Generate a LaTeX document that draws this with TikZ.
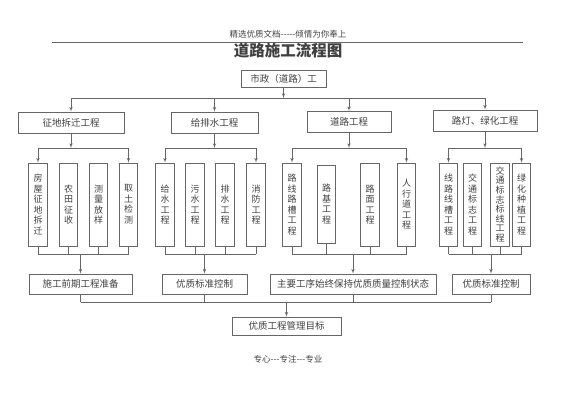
\documentclass[tikz,border=0pt]{standalone}
\usepackage{fontspec}
\newfontfamily\cjk[Ligatures=TeXOff]{Noto Sans CJK SC}
\usetikzlibrary{arrows}

\begin{document}
\begin{tikzpicture}[x=1pt,y=-1pt,->,>=latex',semithick,draw=black!60]
  \tikzstyle{every node}=[font=\cjk,text=black!75]
  \tikzstyle{box}=[draw=black!60,inner sep=0pt,minimum height=21pt,
                   font=\cjk\fontsize{9.5}{11}\selectfont]
  \tikzstyle{vbox}=[box,minimum width=18.5pt,minimum height=83pt,align=center,
                    font=\cjk\fontsize{9}{10.5}\selectfont]

  \useasboundingbox (0,0) rectangle (565,400);

  % page header
  \node (head)  at (288,34) {\fontsize{8.5}{10}\selectfont 精选优质文档-----倾情为你奉上};
  \draw[-] (52,42) -- (523,42);
  \node (title) at (288,51) {\fontsize{15.5}{18}\selectfont\bfseries 道路施工流程图};

  \node[box,minimum width=85pt,minimum height=17pt] (szgc) at (283.5,78.5) {市政（道路）工};

  % second level
  \node[box,minimum width=106pt] (zd)   at (71,122.5)  {征地拆迁工程};
  \node[box,minimum width=87pt]  (gps)  at (214.5,122.5) {给排水工程};
  \node[box,minimum width=84pt]  (dl)   at (349,122)   {道路工程};
  \node[box,minimum width=104pt] (ldlh) at (485,120.5) {路灯、绿化工程};

  % third level
  \node[vbox] (zd1) at (38,204.5)    {房\\屋\\征\\地\\拆\\迁};
  \node[vbox] (zd2) at (68.5,204.5)  {农\\田\\征\\收};
  \node[vbox] (zd3) at (98.5,204.5)  {测\\量\\放\\样};
  \node[vbox] (zd4) at (128.5,204.5) {取\\土\\检\\测};

  \node[vbox] (gps1) at (165,204.5) {给\\水\\工\\程};
  \node[vbox] (gps2) at (195,204.5) {污\\水\\工\\程};
  \node[vbox] (gps3) at (225,204.5) {排\\水\\工\\程};
  \node[vbox] (gps4) at (256,204.5) {消\\防\\工\\程};

  \node[vbox] (dl1) at (292,204.5) {路\\线\\路\\槽\\工\\程};
  \node[vbox,minimum height=78pt] (dl2) at (326.5,204) {路\\基\\工\\程};
  \node[vbox] (dl3) at (370,204.5) {路\\面\\工\\程};
  \node[vbox] (dl4) at (406.5,204.5) {人\\行\\道\\工\\程};

  \node[vbox] (ldlh1) at (448.5,204.5) {线\\路\\线\\槽\\工\\程};
  \node[vbox] (ldlh2) at (472.5,204.5) {交\\通\\标\\志\\工\\程};
  \node[vbox,font=\cjk\fontsize{9}{9.6}\selectfont] (ldlh3) at (500,204.5) {交\\通\\标\\志\\标\\线\\工\\程};
  \node[vbox] (ldlh4) at (521.5,204.5) {绿\\化\\种\\植\\工\\程};

  % fourth level
  \node[box,minimum width=103pt,minimum height=20pt] (sgqq) at (80.5,284)  {施工前期工程准备};
  \node[box,minimum width=85pt,minimum height=20pt]  (yzbz) at (204.5,284) {优质标准控制};
  \node[box,minimum width=166pt,minimum height=20pt] (zygx) at (353,284)   {主要工序始终保持优质质量控制状态};
  \node[box,minimum width=78pt,minimum height=20pt]  (ldbz) at (491,284)   {优质标准控制};

  \node[box,minimum width=109pt,minimum height=18pt] (mubiao) at (286.5,326) {优质工程管理目标};

  \node (foot) at (288,359) {\fontsize{8.5}{10}\selectfont 专心---专注---专业};

  % connectors
  \coordinate (bus0) at (0,98);
  \coordinate (bus1) at (0,148);
  \coordinate (bus2) at (0,254);
  \coordinate (bus3) at (0,302);

  \draw (szgc) -- (szgc |- bus0);
  \draw[-] (zd |- bus0) -- (ldlh |- bus0);
  \foreach \g in {zd,gps,dl,ldlh}
    \draw (\g |- bus0) -- (\g);

  \foreach \g/\b in {zd/sgqq,gps/yzbz,dl/zygx,ldlh/ldbz} {
    \draw (\g) -- (\g |- bus1);
    \draw[-] (\g1 |- bus1) -- (\g4 |- bus1);
    \draw (\g1 |- bus1) -- (\g1);
    \draw (\g4 |- bus1) -- (\g4);
    \foreach \i in {1,...,4}
      \draw[-] (\g\i) -- (\g\i |- bus2);
    \draw[-] (\g1 |- bus2) -- (\g4 |- bus2);
    \draw (\b |- bus2) -- (\b);
    \draw[-] (\b) -- (\b |- bus3);
  }
  \draw[-] (sgqq |- bus3) -- (ldbz |- bus3);
  \draw (mubiao |- bus3) -- (mubiao);

\end{tikzpicture}
\end{document}
